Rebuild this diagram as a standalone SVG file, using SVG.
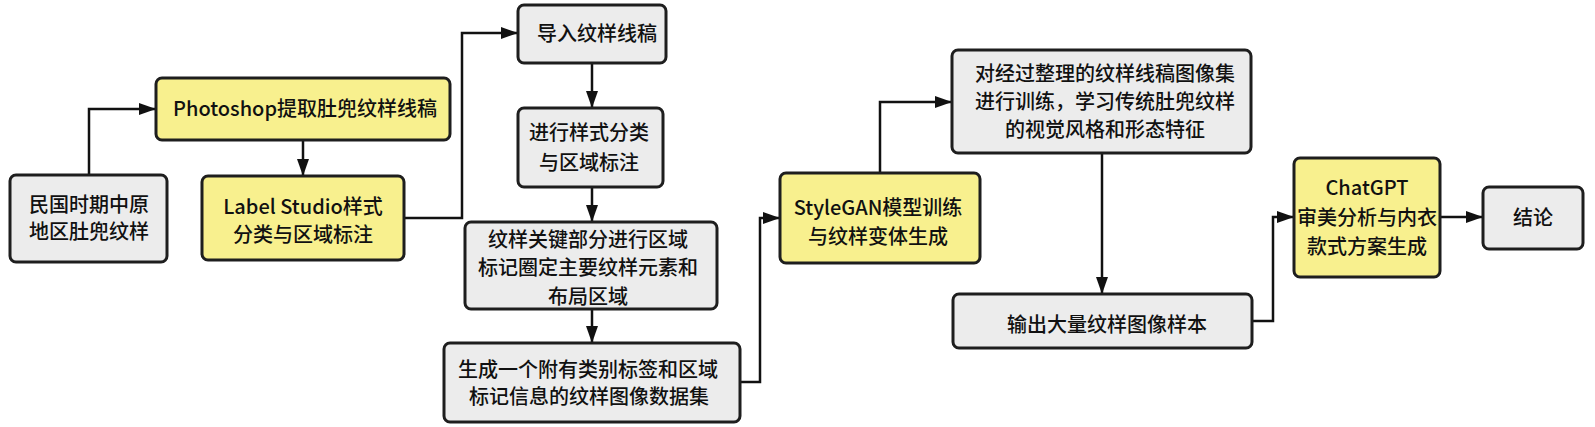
<svg xmlns="http://www.w3.org/2000/svg" width="1595" height="427" viewBox="0 0 1595 427">
<defs>
<marker id="arr" markerUnits="userSpaceOnUse" markerWidth="18" markerHeight="14" refX="17" refY="6" orient="auto">
<path d="M0,0 L17,6 L0,12 z" fill="#111"/>
</marker>
<style>
.box{stroke:#1e1e1e;stroke-width:3}
.g{fill:#ececec}
.y{fill:#f8f08e}
text{font-family:"Noto Sans CJK SC","Noto Sans",sans-serif;font-size:20px;font-weight:500;fill:#111;text-anchor:middle}
.c{fill:none;stroke:#111;stroke-width:2.5}
</style>
</defs>
<rect width="1595" height="427" fill="#fff"/>
<g id="connectors">
<path class="c" d="M89,175 V109 H156" marker-end="url(#arr)"/>
<path class="c" d="M303,140 V176" marker-end="url(#arr)"/>
<path class="c" d="M404,218 H462 V33 H518" marker-end="url(#arr)"/>
<path class="c" d="M592,63 V108" marker-end="url(#arr)"/>
<path class="c" d="M592,187 V222" marker-end="url(#arr)"/>
<path class="c" d="M592,309 V343" marker-end="url(#arr)"/>
<path class="c" d="M740,382 H760 V218 H780" marker-end="url(#arr)"/>
<path class="c" d="M880,173 V102 H952" marker-end="url(#arr)"/>
<path class="c" d="M1102,153 V294" marker-end="url(#arr)"/>
<path class="c" d="M1252,321 H1273 V217 H1294" marker-end="url(#arr)"/>
<path class="c" d="M1440,217 H1483" marker-end="url(#arr)"/>
</g>
<g id="n1"><rect class="box g" x="10" y="175" width="157" height="87" rx="6"/>
<text x="89" y="212">民国时期中原</text><text x="89" y="239">地区肚兜纹样</text></g>
<g id="n2"><rect class="box y" x="156" y="78" width="294" height="62" rx="6"/>
<text x="305" y="116">Photoshop提取肚兜纹样线稿</text></g>
<g id="n3"><rect class="box y" x="202" y="176" width="202" height="84" rx="6"/>
<text x="303" y="214">Label Studio样式</text><text x="303" y="242">分类与区域标注</text></g>
<g id="n4"><rect class="box g" x="518" y="5" width="148" height="58" rx="6"/>
<text x="597" y="41">导入纹样线稿</text></g>
<g id="n5"><rect class="box g" x="518" y="108" width="145" height="79" rx="6"/>
<text x="589" y="140">进行样式分类</text><text x="589" y="170">与区域标注</text></g>
<g id="n6"><rect class="box g" x="465" y="222" width="252" height="87" rx="6"/>
<text x="588" y="247">纹样关键部分进行区域</text><text x="588" y="275">标记圈定主要纹样元素和</text><text x="588" y="304">布局区域</text></g>
<g id="n7"><rect class="box g" x="444" y="343" width="296" height="79" rx="6"/>
<text x="588" y="377">生成一个附有类别标签和区域</text><text x="589" y="404">标记信息的纹样图像数据集</text></g>
<g id="n8"><rect class="box y" x="780" y="173" width="200" height="90" rx="6"/>
<text x="878" y="215">StyleGAN模型训练</text><text x="878" y="244">与纹样变体生成</text></g>
<g id="n9"><rect class="box g" x="952" y="50" width="299" height="103" rx="6"/>
<text x="1105" y="81">对经过整理的纹样线稿图像集</text><text x="1105" y="109">进行训练，学习传统肚兜纹样</text><text x="1105" y="137">的视觉风格和形态特征</text></g>
<g id="n10"><rect class="box g" x="953" y="294" width="299" height="54" rx="6"/>
<text x="1107" y="332">输出大量纹样图像样本</text></g>
<g id="n11"><rect class="box y" x="1294" y="158" width="146" height="119" rx="6"/>
<text x="1367" y="195">ChatGPT</text><text x="1367" y="225">审美分析与内衣</text><text x="1367" y="254">款式方案生成</text></g>
<g id="n12"><rect class="box g" x="1483" y="187" width="100" height="62" rx="6"/>
<text x="1533" y="225">结论</text></g>
</svg>
